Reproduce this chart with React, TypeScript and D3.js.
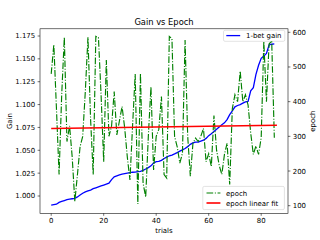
import React from "react";
import * as d3 from "d3";

// ---- data ----
const gain: number[] = [
  0.990, 0.9905, 0.991, 0.993, 0.994, 0.995, 0.996, 0.9965, 0.997, 0.9975,
  0.999, 1.001, 1.003, 1.0045, 1.0055, 1.0065, 1.008, 1.009, 1.010, 1.011,
  1.012, 1.013, 1.014, 1.018, 1.021, 1.022, 1.023, 1.024, 1.0245, 1.025,
  1.0255, 1.026, 1.0262, 1.0266, 1.027, 1.028, 1.0295, 1.031, 1.033, 1.036,
  1.0375, 1.0378, 1.039, 1.041, 1.0425, 1.044, 1.0448, 1.046, 1.0475, 1.049,
  1.0505, 1.052, 1.054, 1.0565, 1.058, 1.059, 1.059, 1.060, 1.061, 1.063,
  1.066, 1.068, 1.0705, 1.073, 1.0755, 1.078, 1.080, 1.0835, 1.089, 1.093,
  1.0975, 1.099, 1.100, 1.1015, 1.103, 1.1035, 1.115, 1.1185, 1.133, 1.143,
  1.1506, 1.153, 1.156, 1.1652, 1.166, 1.1663,
];

const epoch: number[] = [
  480, 565, 380, 190, 420, 586, 285, 330, 240, 112,
  190, 270, 300, 430, 586, 350, 190, 588, 585, 420,
  227, 520, 300, 330, 429, 304, 345, 386, 324, 240,
  174, 330, 480, 105, 482, 165, 125, 300, 443, 203,
  300, 320, 415, 190, 180, 588, 582, 300, 270, 223,
  251, 578, 300, 185, 280, 295, 285, 300, 323, 227,
  250, 213, 360, 260, 216, 190, 248, 280, 161, 380,
  420, 400, 488, 400, 420, 390, 310, 248, 272, 248,
  296, 574, 400, 566, 575, 296,
];

const trials: number[] = gain.map((_, i) => i);

const fitX: number[] = [0, 86];
const fitY: number[] = [322.5, 332.0];

const xTicks: number[] = [0, 20, 40, 60, 80];
const gainTicks: number[] = [1.0, 1.025, 1.05, 1.075, 1.1, 1.125, 1.15, 1.175];
const epochTicks: number[] = [100, 200, 300, 400, 500, 600];

const title = "Gain vs Epoch";
const xLabel = "trials";
const yLabelLeft = "Gain";
const yLabelRight = "epoch";
const legendTop = ["1-bet gain"];
const legendBottom = ["epoch", "epoch linear fit"];

// ---- layout ----
const W = 320;
const H = 240;
const L = 40;
const R = 288;
const T = 28.8;
const B = 213.4;
const FONT = "DejaVu Sans, sans-serif";
const FS = 6.94;
const TICK = 2.4;
const SW = 0.56;
const LW = 1.15;
const RW = 1.6;
const DASHDOT = "6.67,1.67,1.04,1.67";

export default function App() {
  const x = d3.scaleLinear().domain([0, 80]).range([51.2, 261.2]);
  const yL = d3.scaleLinear().domain([1.0, 1.175]).range([196, 36]);
  const yR = d3.scaleLinear().domain([100, 600]).range([205.7, 32.3]);

  const gainLine = d3
    .line<number>()
    .x((_, i) => x(trials[i]))
    .y((d) => yL(d));
  const epochLine = d3
    .line<number>()
    .x((_, i) => x(trials[i]))
    .y((d) => yR(d));
  const fitLine = d3
    .line<number>()
    .x((_, i) => x(fitX[i]))
    .y((d) => yR(d));

  const fmt = d3.format(".3f");

  return (
    <svg
      width={W}
      height={H}
      style={{ position: "absolute", left: 0, top: 0, background: "#fff" }}
      fontFamily={FONT}
    >
      <defs>
        <clipPath id="plot">
          <rect x={L} y={T} width={R - L} height={B - T} />
        </clipPath>
      </defs>
      <rect x={0} y={0} width={W} height={H} fill="#fff" />

      {/* ax1 : gain */}
      <g clipPath="url(#plot)">
        <path d={gainLine(gain) || ""} fill="none" stroke="#0000ff" strokeWidth={1.3} />
      </g>

      {/* ax1 legend */}
      <g>
        <rect x={223.5} y={30.3} width={61.3} height={11} rx={1.5} fill="#fff" fillOpacity={0.8} stroke="#cccccc" strokeWidth={0.56} />
        <line x1={226.3} x2={240.2} y1={35.6} y2={35.6} stroke="#0000ff" strokeWidth={1.3} />
        <text x={246} y={38.1} fontSize={FS} fill="#000">{legendTop[0]}</text>
      </g>

      {/* ax2 : epoch */}
      <g clipPath="url(#plot)">
        <path d={epochLine(epoch) || ""} fill="none" stroke="#008000" strokeWidth={LW} strokeDasharray={DASHDOT} />
        <path d={fitLine(fitY) || ""} fill="none" stroke="#ff0000" strokeWidth={RW} />
      </g>

      {/* spines */}
      <rect x={L} y={T} width={R - L} height={B - T} fill="none" stroke="#000" strokeWidth={SW} />

      {/* x ticks */}
      {xTicks.map((t) => (
        <g key={"x" + t}>
          <line x1={x(t)} x2={x(t)} y1={B} y2={B + TICK} stroke="#000" strokeWidth={SW} />
          <text x={x(t)} y={B + TICK + 7.6} fontSize={FS} textAnchor="middle" fill="#000">{t}</text>
        </g>
      ))}

      {/* left ticks */}
      {gainTicks.map((t) => (
        <g key={"l" + t}>
          <line x1={L - TICK} x2={L} y1={yL(t)} y2={yL(t)} stroke="#000" strokeWidth={SW} />
          <text x={L - TICK - 2.4} y={yL(t)} dy="0.36em" fontSize={FS} textAnchor="end" fill="#000">{fmt(t)}</text>
        </g>
      ))}

      {/* right ticks */}
      {epochTicks.map((t) => (
        <g key={"r" + t}>
          <line x1={R} x2={R + TICK} y1={yR(t)} y2={yR(t)} stroke="#000" strokeWidth={SW} />
          <text x={R + TICK + 2.4} y={yR(t)} dy="0.36em" fontSize={FS} textAnchor="start" fill="#000">{t}</text>
        </g>
      ))}

      {/* ax2 legend */}
      <g>
        <rect x={202.8} y={186.4} width={81.6} height={23.2} rx={1.5} fill="#fff" fillOpacity={0.8} stroke="#cccccc" strokeWidth={0.56} />
        <line x1={206.5} x2={220.4} y1={193} y2={193} stroke="#008000" strokeWidth={LW} strokeDasharray={DASHDOT} />
        <text x={226} y={195.5} fontSize={FS} fill="#000">{legendBottom[0]}</text>
        <line x1={206.5} x2={220.4} y1={203} y2={203} stroke="#ff0000" strokeWidth={RW} />
        <text x={226} y={205.5} fontSize={FS} fill="#000">{legendBottom[1]}</text>
      </g>

      {/* labels */}
      <text x={(L + R) / 2} y={24.5} fontSize={8.33} textAnchor="middle" fill="#000">{title}</text>
      <text x={(L + R) / 2} y={232.5} fontSize={FS} textAnchor="middle" fill="#000">{xLabel}</text>
      <text transform={`translate(11.8,${(T + B) / 2}) rotate(-90)`} fontSize={FS} textAnchor="middle" fill="#000">{yLabelLeft}</text>
      <text transform={`translate(314.5,${(T + B) / 2}) rotate(-90)`} fontSize={FS} textAnchor="middle" fill="#000">{yLabelRight}</text>
    </svg>
  );
}
